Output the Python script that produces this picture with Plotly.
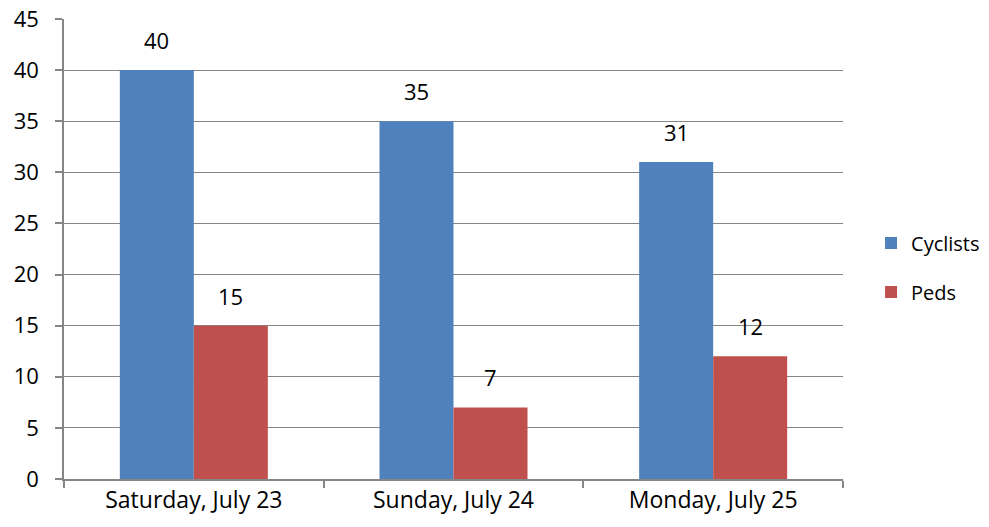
import plotly.graph_objects as go

categories = ["Saturday, July 23", "Sunday, July 24", "Monday, July 25"]
cyclists = [40, 35, 31]
peds = [15, 7, 12]
y_ticks = [0, 5, 10, 15, 20, 25, 30, 35, 40, 45]

BLUE = "#4F81BD"
RED = "#C0504D"
GRID = "#868686"
FONT = "Open Sans, Noto Sans, sans-serif"
FS = 22

fig = go.Figure()
fig.add_trace(go.Bar(name="Cyclists", x=categories, y=cyclists, marker_color=BLUE,
                     marker_line_width=0, legendgroup="a"))
fig.add_trace(go.Bar(name="Peds", x=categories, y=peds, marker_color=RED,
                     marker_line_width=0, legendgroup="b"))

for vals, shift in ((cyclists, -37), (peds, 37)):
    for c, v in zip(categories, vals):
        fig.add_annotation(x=c, y=v, xref="x", yref="y", text=str(v), showarrow=False,
                           xshift=shift, yshift=13, yanchor="bottom",
                           font=dict(size=FS, color="#000000", family=FONT))

fig.update_layout(
    width=989, height=527,
    margin=dict(l=64, r=146, t=19, b=48, autoexpand=False),
    paper_bgcolor="white", plot_bgcolor="white",
    barmode="group", bargap=0.43, bargroupgap=0,
    font=dict(family=FONT, size=FS, color="#000000"),
    showlegend=True,
    legend=dict(x=1.036, y=0.46, xanchor="left", yanchor="middle",
                font=dict(size=20, family=FONT), tracegroupgap=20,
                traceorder="grouped", itemwidth=30, bgcolor="rgba(0,0,0,0)"),
)
fig.update_xaxes(showline=True, linecolor=GRID, linewidth=1.5, ticks="outside",
                 tickson="boundaries", ticklen=7, tickcolor=GRID, tickwidth=1.5,
                 showgrid=False, tickfont=dict(size=23), automargin=False)
fig.update_yaxes(range=[0, 45], tickvals=y_ticks, showgrid=True, gridcolor=GRID,
                 gridwidth=1.2, showline=True, linecolor=GRID, linewidth=1.5,
                 ticks="outside", ticklen=7, tickcolor=GRID, tickwidth=1.5,
                 zeroline=False, tickfont=dict(size=FS), ticklabelstandoff=12,
                 ticklabeloverflow="allow", automargin=False)

fig.write_html("out.html", config={"displayModeBar": False},
               post_script="document.body.style.margin='0';document.body.style.padding='0';")
